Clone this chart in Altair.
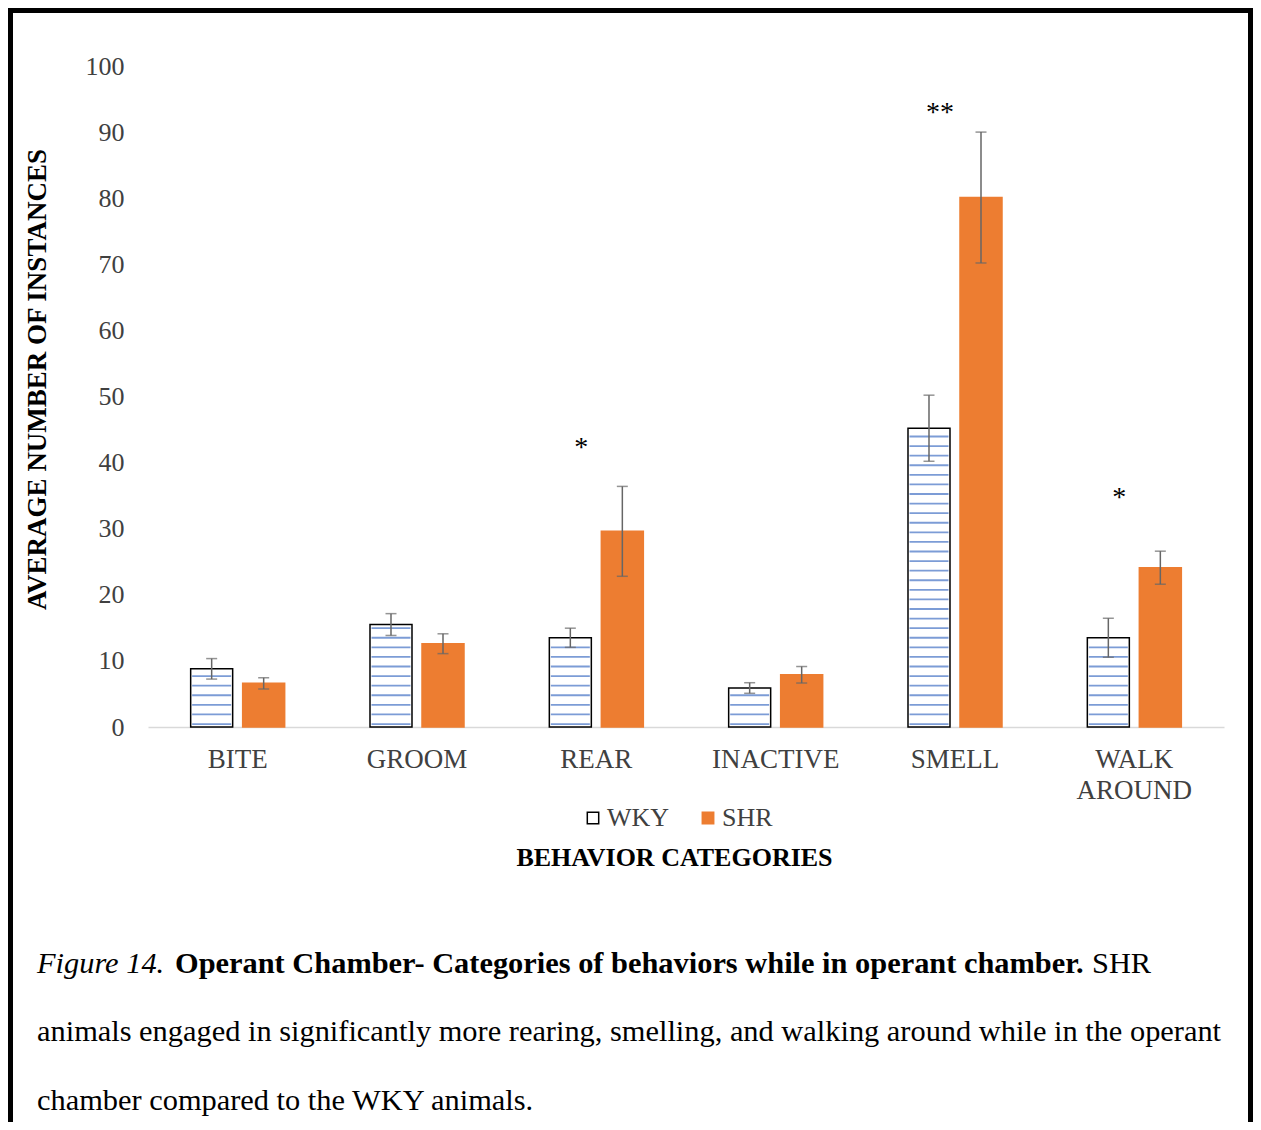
import altair as alt
import numpy as np
import pandas as pd

# ---------------- data ----------------
categories = ["BITE", "GROOM", "REAR", "INACTIVE", "SMELL", "WALK AROUND"]
groups = ["WKY", "SHR"]
wky_mean = [8.8, 15.5, 13.5, 5.9, 45.2, 13.5]
wky_sem = [1.55, 1.65, 1.45, 0.8, 5.0, 2.95]
shr_mean = [6.6, 12.6, 29.6, 7.9, 80.1, 24.1]
shr_sem = [0.85, 1.5, 6.8, 1.25, 9.9, 2.5]
sig_categories = ["REAR", "SMELL", "WALK AROUND"]
sig_labels = ["*", "**", "*"]
sig_heights = [41.0, 91.7, 33.4]
y_ticks = list(range(0, 101, 10))

caption_italic = "Figure 14."
caption_bold = "Operant Chamber- Categories of behaviors while in operant chamber."
caption_l1_rest = "SHR"
caption_l2 = "animals engaged in significantly more rearing, smelling, and walking around while in the operant"
caption_l3 = "chamber compared to the WKY animals."

# ---------------- tables ----------------
rows = []
for c, m, s in zip(categories, wky_mean, wky_sem):
    rows.append({"category": c, "group": "WKY", "mean": m, "lo": m - s, "hi": m + s})
for c, m, s in zip(categories, shr_mean, shr_sem):
    rows.append({"category": c, "group": "SHR", "mean": m, "lo": m - s, "hi": m + s})
bars_df = pd.DataFrame(rows)

HATCH_STEP = 1.45
hatch_rows = []
for c, m in zip(categories, wky_mean):
    for lv in np.arange(0.45, m - 0.4, HATCH_STEP):
        hatch_rows.append({"category": c, "group": "WKY", "level": float(lv)})
hatch_df = pd.DataFrame(hatch_rows)

sig_df = pd.DataFrame({"category": sig_categories, "label": sig_labels, "h": sig_heights})
one = pd.DataFrame({"a": [0]})

SERIF = "Liberation Serif"
ORANGE = "#ED7D31"
BLUE = "#4472C4"
ERR = "#666666"

x_scale = alt.Scale(domain=categories, paddingInner=0.4758, paddingOuter=0.2379)
xo_scale = alt.Scale(domain=groups, paddingInner=0.1923, paddingOuter=0)
y_scale = alt.Scale(domain=[0, 100], nice=False)

x_enc = alt.X(
    "category:N",
    scale=x_scale,
    sort=categories,
    axis=alt.Axis(
        title="BEHAVIOR CATEGORIES",
        titleFont=SERIF,
        titleFontSize=26,
        titleFontWeight="bold",
        titleColor="#000000",
        titleX=526,
        titleY=138,
        titleAlign="center",
        titleBaseline="alphabetic",
        labelFont=SERIF,
        labelFontSize=27,
        labelColor="#404040",
        labelAngle=0,
        labelPadding=19,
        labelLineHeight=31,
        labelExpr="split(datum.label, ' ')",
        ticks=False,
        tickSize=0,
        domainColor="#D9D9D9",
        domainWidth=1.5,
        grid=False,
    ),
)
y_enc = alt.Y(
    "mean:Q",
    scale=y_scale,
    axis=alt.Axis(
        values=y_ticks,
        title="AVERAGE NUMBER OF INSTANCES",
        titleFont=SERIF,
        titleFontSize=27,
        titleFontWeight="bold",
        titleColor="#000000",
        titleAngle=270,
        titleX=-103,
        titleY=313,
        titleAlign="center",
        titleBaseline="alphabetic",
        labelFont=SERIF,
        labelFontSize=26,
        labelColor="#404040",
        labelPadding=24,
        ticks=False,
        tickSize=0,
        domain=False,
        grid=False,
    ),
)

legend = alt.Legend(
    title=None,
    orient="none",
    legendX=432,
    legendY=739,
    direction="horizontal",
    symbolType="square",
    symbolSize=130,
    symbolStrokeWidth=1.5,
    labelFont=SERIF,
    labelFontSize=26,
    labelColor="#404040",
    labelOffset=1,
    columnPadding=25,
)

xo = alt.XOffset("group:N", scale=xo_scale, sort=groups)

bars = alt.Chart(bars_df).mark_bar(strokeWidth=1.5).encode(
    x=x_enc,
    xOffset=xo,
    y=y_enc,
    fill=alt.Fill("group:N", scale=alt.Scale(domain=groups, range=["#FFFFFF", ORANGE]), sort=groups, legend=legend),
    stroke=alt.Stroke("group:N", scale=alt.Scale(domain=groups, range=["#000000", ORANGE]), sort=groups, legend=legend),
)

hatch = alt.Chart(hatch_df).mark_tick(orient="horizontal", size=39, thickness=1.8, color=BLUE).encode(
    x=alt.X("category:N", scale=x_scale, sort=categories),
    xOffset=xo,
    y=alt.Y("level:Q", scale=y_scale),
)

err_rule = alt.Chart(bars_df).mark_rule(color=ERR, strokeWidth=1.5).encode(
    x=alt.X("category:N", scale=x_scale, sort=categories),
    xOffset=xo,
    y=alt.Y("lo:Q", scale=y_scale),
    y2="hi:Q",
)
err_lo = alt.Chart(bars_df).mark_tick(orient="horizontal", size=11, thickness=1.5, color=ERR).encode(
    x=alt.X("category:N", scale=x_scale, sort=categories),
    xOffset=xo,
    y=alt.Y("lo:Q", scale=y_scale),
)
err_hi = alt.Chart(bars_df).mark_tick(orient="horizontal", size=11, thickness=1.5, color=ERR).encode(
    x=alt.X("category:N", scale=x_scale, sort=categories),
    xOffset=xo,
    y=alt.Y("hi:Q", scale=y_scale),
)

sig = alt.Chart(sig_df).mark_text(
    font=SERIF, fontSize=28, color="#000000", baseline="alphabetic", align="center", dx=-15
).encode(
    x=alt.X("category:N", scale=x_scale, sort=categories),
    y=alt.Y("h:Q", scale=y_scale),
    text="label:N",
)

def cap(text, x, y, **kw):
    return alt.Chart(one).mark_text(
        text=text, font=SERIF, fontSize=30.4, color="#000000", align="left", baseline="alphabetic", **kw
    ).encode(x=alt.value(x), y=alt.value(y))

captions = [
    cap(caption_italic, -111, 907, fontStyle="italic"),
    cap(caption_bold, 27, 907, fontWeight="bold"),
    cap(caption_l1_rest, 944, 907),
    cap(caption_l2, -111, 975),
    cap(caption_l3, -111, 1044),
]

frame = alt.Chart(one).mark_rect(fillOpacity=0, stroke="#000000", strokeWidth=5).encode(
    x=alt.value(-137.5), x2=alt.value(1102.5), y=alt.value(-55.5), y2=alt.value(1100)
)

chart = alt.layer(bars, hatch, err_rule, err_lo, err_hi, sig, *captions, frame).properties(
    width=1076,
    height=661,
    autosize=alt.AutoSizeParams(type="none"),
    padding={"left": 140, "top": 58, "right": 29, "bottom": 395},
    background="#FFFFFF",
).configure_view(stroke=None)

chart.save("out.html", embed_options={"renderer": "svg", "actions": False})
